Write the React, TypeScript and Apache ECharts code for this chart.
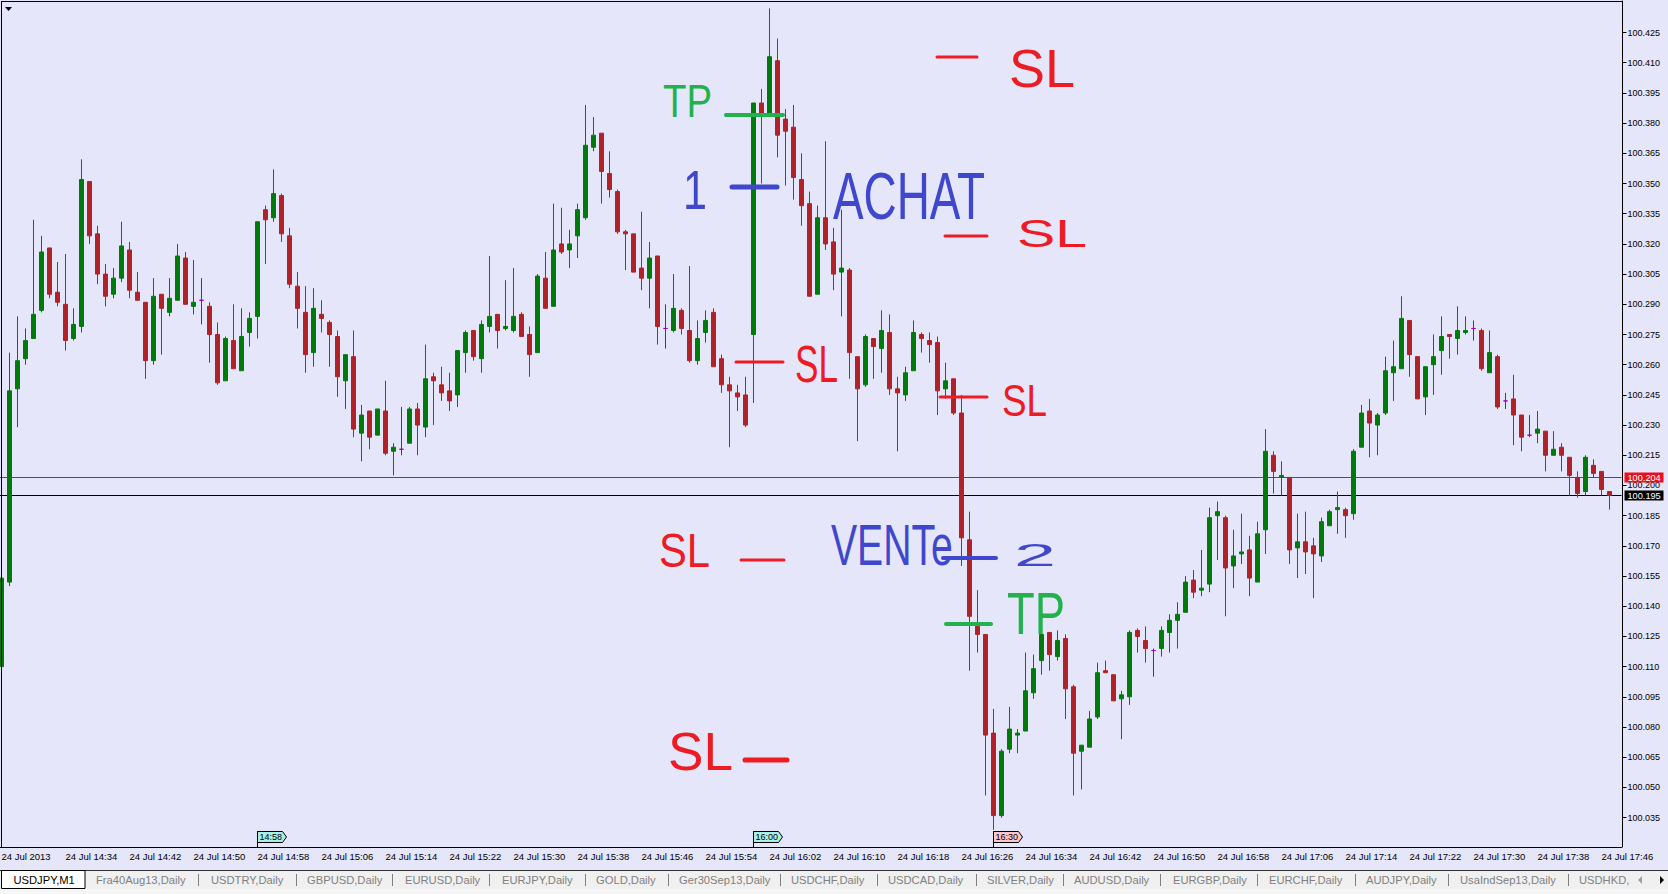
import React, { useEffect, useRef } from "react";
import * as echarts from "echarts";

// Prices, in thousandths above 100.000 (100.154 is written 154). One entry per M1 bar from 14:26.
const opensPts = [
  110,152,248,263,273,287,318,296,290,273, 279,351,325,305,295,303,317,296,291,262,
  295,286,292,313,289,292,289,275,252,272, 257,276,284,337,333,344,324,299,286,266,
  285,281,274,252,264,226,237,225,237,217, 218,221,238,229,254,250,247,245,266,277,
  263,279,285,278,277,285,275,266,303,289, 320,317,324,333,368,375,355,346,326,325,
  308,303,314,278,277,287,277,262,276,286, 263,250,246,245,275,390,385,411,382,378,
  352,340,295,333,321,306,307,264,250,273, 268,276,248,245,257,275,272,271,248,253,
  236,173,130,126,77,36,69,76,78,97, 113,127,115,124,100,68,70,85,108,106,
  94,95,128,123,118,119,127,133,137,153, 148,151,185,184,160,166,168,152,178,215,
  204,204,169,172,170,165,180,188,188,186, 219,237,230,236,256,258,282,264,244,260,
  267,275,273,276,278,277,256,264,242,243, 235,225,226,227,215,219,214,204,197,210,
  207,197,
];
const closesPts = [
  154,247,262,272,285,316,295,291,272,280, 352,324,305,294,303,319,297,292,262,294,
  288,293,314,290,291,292,275,251,273,258, 274,283,331,332,345,325,300,288,265,288,
  283,275,254,265,228,235,224,238,216,219, 218,238,230,253,252,246,242,267,276,264,
  280,284,277,279,284,274,265,304,288,317, 316,320,337,369,374,356,347,326,325,306,
  303,313,279,278,288,278,262,273,282,259, 250,247,244,230,390,385,413,374,376,353,
  339,294,333,320,305,308,266,248,274,269, 277,248,246,256,276,273,270,247,252,236,
  174,135,126,76,36,68,79,77,98,109, 126,116,123,99,67,71,84,107,107,93,
  96,127,125,119,118,128,133,136,152,147, 149,184,187,159,165,167,154,176,217,207,
  205,168,172,167,166,182,187,189,185,217, 236,231,235,257,259,283,265,243,259,264,
  274,274,277,277,278,258,266,239,242,235, 224,225,228,215,218,215,205,196,214,206,
  198,195,
];
const lowsPts = [
  110,150,229,260,273,286,293,289,267,272, 276,320,300,289,293,301,293,292,253,260,
  265,284,292,290,285,280,261,250,252,258, 257,269,273,310,331,321,298,278,256,259,
  276,259,244,238,224,212,218,225,215,205, 215,221,215,224,230,242,237,239,256,262,
  256,276,268,277,276,274,254,266,288,289, 315,308,313,332,366,340,343,325,307,306,
  297,288,270,268,276,275,261,260,271,259, 246,219,237,229,241,350,384,363,349,342,
  329,294,295,317,297,284,253,222,249,253, 256,245,217,242,257,266,261,235,243,235,
  160,108,117,46,29,35,67,67,78,94, 106,108,113,84,46,49,70,84,107,93,
  74,91,117,112,105,115,117,119,137,144, 145,147,163,135,149,161,145,152,166,196,
  195,161,154,156,144,162,180,176,174,183, 219,214,215,235,242,258,254,243,235,245,
  255,263,265,275,272,257,256,238,238,220, 217,224,221,207,215,207,195,194,195,204,
  195,188,
];
const highsPts = [
  154,266,284,278,332,324,318,311,315,288, 362,351,329,310,308,331,321,306,291,303,
  295,303,320,316,312,303,291,281,274,290, 288,286,331,339,357,345,328,306,299,298,
  292,282,277,265,277,240,237,238,252,221, 239,239,241,270,256,259,256,267,277,277,
  282,314,285,302,308,286,279,305,316,340, 338,327,340,389,383,375,366,347,327,325,
  336,321,314,290,305,288,309,282,287,288, 265,254,250,254,390,397,437,422,387,389,
  365,346,339,371,328,337,308,264,275,273, 287,285,254,259,282,276,276,274,261,253,
  245,187,148,126,89,69,90,79,117,116, 133,127,128,126,101,71,88,112,113,106,
  98,128,129,130,119,130,136,142,155,158, 168,189,192,185,178,186,175,182,228,217,
  212,204,186,187,174,184,188,197,189,218, 240,243,236,264,272,294,282,264,259,275,
  284,275,289,284,282,278,277,265,246,255, 235,235,237,227,227,221,214,207,215,213,
  207,197,
];

// One label for every eighth bar.
const timeLabels = [
  "24 Jul 2013","24 Jul 14:34","24 Jul 14:42","24 Jul 14:50","24 Jul 14:58","24 Jul 15:06","24 Jul 15:14",
  "24 Jul 15:22","24 Jul 15:30","24 Jul 15:38","24 Jul 15:46","24 Jul 15:54","24 Jul 16:02","24 Jul 16:10",
  "24 Jul 16:18","24 Jul 16:26","24 Jul 16:34","24 Jul 16:42","24 Jul 16:50","24 Jul 16:58","24 Jul 17:06",
  "24 Jul 17:14","24 Jul 17:22","24 Jul 17:30","24 Jul 17:38","24 Jul 17:46",
];
const priceTicks = [
  100.035,100.05,100.065,100.08,100.095,100.11,100.125,100.14,100.155,100.17,100.185,100.2,100.215,100.23,
  100.245,100.26,100.275,100.29,100.305,100.32,100.335,100.35,100.365,100.38,100.395,100.41,100.425,
];
const askPrice = 100.204;
const bidPrice = 100.195;
const tabNames = [
  "Fra40Aug13,Daily","USDTRY,Daily","GBPUSD,Daily","EURUSD,Daily","EURJPY,Daily","GOLD,Daily","Ger30Sep13,Daily",
  "USDCHF,Daily","USDCAD,Daily","SILVER,Daily","AUDUSD,Daily","EURGBP,Daily","EURCHF,Daily","AUDJPY,Daily",
  "UsaIndSep13,Daily","USDHKD,",
];
const tabStarts = [96,211,307,405,502,596,679,791,888,987,1074,1173,1269,1366,1460,1579];
const tabSeparators = [198,296,392,489,585,668,780,877,976,1063,1160,1257,1355,1448,1568];
const periodFlags = [
  { bar: 32, text: "14:58", fill: "#a8f0e6" },
  { bar: 94, text: "16:00", fill: "#a8f0e6" },
  { bar: 124, text: "16:30", fill: "#ffc4cc" },
];

const RED = "#ed1c24";
const GREEN = "#22b14c";
const BLUE = "#3f48cc";
const handwriting: [string, string, number, number, number, number][] = [
  ["TP", GREEN, 663, 85, 712, 118],
  ["1", BLUE, 683, 170, 707, 210],
  ["ACHAT", BLUE, 833, 172, 985, 220],
  ["SL", RED, 1009, 48, 1075, 87],
  ["SL", RED, 1017, 219, 1087, 247],
  ["SL", RED, 795, 345, 838, 382],
  ["SL", RED, 1002, 385, 1047, 417],
  ["SL", RED, 659, 533, 710, 568],
  ["VENTe", BLUE, 831, 525, 953, 566],
  ["2", BLUE, 1014, 543, 1056, 566],
  ["TP", GREEN, 1007, 593, 1065, 635],
  ["SL", RED, 668, 733, 733, 771],
];
const dashes: [string, number, number, number, number][] = [
  [GREEN, 726, 783, 115, 4],
  [BLUE, 732, 777, 187, 5],
  [RED, 937, 977, 57, 3],
  [RED, 945, 987, 236, 3],
  [RED, 736, 783, 362, 3],
  [RED, 940, 987, 397, 3],
  [RED, 741, 784, 560, 3],
  [BLUE, 943, 996, 558, 4],
  [GREEN, 946, 991, 624, 4],
  [RED, 745, 787, 760, 5],
];

const UP = "#007a0a";
const DOWN = "#b02228";
const DOJI = "#9400d3";
const BG = "#e6e6fa";
const AXIS_FONT = '"Liberation Sans", Arial, sans-serif';
// The chart's div starts this many pixels left of the page, so that the first bar can be cut by the page edge.
const SHIFT = 4;
const toPrice = (p: number) => 100 + p / 1000;

export default function App() {
  const ref = useRef<HTMLDivElement>(null);
  useEffect(() => {
    document.body.style.margin = "0";
    document.body.style.overflow = "hidden";
    const chart = echarts.init(ref.current!, undefined, { renderer: "svg" });
    const candles = opensPts.map((o, i) => {
      const value = [toPrice(o), toPrice(closesPts[i]), toPrice(lowsPts[i]), toPrice(highsPts[i])];
      return o === closesPts[i]
        ? { value, itemStyle: { color: DOJI, color0: DOJI, borderColor: DOJI, borderColor0: DOJI, borderColorDoji: DOJI } }
        : { value };
    });
    const categories = [...opensPts.map((_, i) => (i % 8 === 0 ? timeLabels[i / 8] : "")), ""];
    const markStyle = (value: number, color: string, text: string) => ({
      yAxis: value,
      lineStyle: { color, width: 1, type: "solid" },
      label: {
        show: true, position: "end", distance: 3, formatter: text, color: "#fff", backgroundColor: color,
        fontFamily: AXIS_FONT, fontSize: 9.2, padding: [1, 3, 1, 3], width: 33, height: 8, lineHeight: 8,
      },
    });
    chart.setOption({
      animation: false,
      backgroundColor: BG,
      grid: { left: SHIFT - 2.5, top: 1, width: 1624, height: 846, containLabel: false },
      xAxis: {
        type: "category", data: categories, boundaryGap: true,
        axisLine: { onZero: false, lineStyle: { color: "#000", width: 1 } },
        axisTick: { alignWithLabel: true, interval: 7, length: 3, lineStyle: { color: "#000" } },
        axisLabel: { interval: 7, align: "left", margin: 4, color: "#000", fontFamily: AXIS_FONT, fontSize: 9.5, hideOverlap: false },
        splitLine: { show: false },
      },
      yAxis: {
        type: "value", position: "right", offset: 1, min: 100.02041, max: 100.44067, scale: true,
        axisLine: { show: true, onZero: false, lineStyle: { color: "#000", width: 1 } },
        axisTick: { show: true, length: 4, lineStyle: { color: "#000" }, customValues: priceTicks },
        axisLabel: { margin: 5, color: "#000", fontFamily: AXIS_FONT, fontSize: 9, customValues: priceTicks, formatter: (v: number) => v.toFixed(3) },
        splitLine: { show: false },
      },
      series: [{
        type: "candlestick", z: 3, barWidth: 4, data: candles,
        itemStyle: { color: UP, color0: DOWN, borderColor: UP, borderColor0: DOWN, borderWidth: 1 },
        silent: true,
        markLine: {
          z: 1, silent: true, symbol: "none", precision: 5,
          // The 0.00005 only lands the line on a whole pixel row; the tag shows the real price.
          data: [markStyle(askPrice - 0.00005, "#e8101c", askPrice.toFixed(3)), markStyle(bidPrice, "#000000", bidPrice.toFixed(3))],
        },
      }],
    });

    const measure = document.createElement("canvas").getContext("2d")!;
    const graphics: any[] = [];
    graphics.push({ type: "line", z: 50, shape: { x1: 1.5, y1: 1, x2: 1.5, y2: 847 }, style: { stroke: "#000", lineWidth: 1 } });
    graphics.push({ type: "line", z: 50, shape: { x1: 1, y1: 1.5, x2: 1623, y2: 1.5 }, style: { stroke: "#000", lineWidth: 1 } });
    graphics.push({ type: "polygon", z: 50, shape: { points: [[5, 7], [12, 7], [8.5, 11]] }, style: { fill: "#000" } });

    for (const f of periodFlags) {
      const x = Math.floor((chart.convertToPixel({ xAxisIndex: 0 }, f.bar) as number) - SHIFT) + 0.5;
      graphics.push({ type: "line", z: 50, shape: { x1: x, y1: 831, x2: x, y2: 847 }, style: { stroke: "#000", lineWidth: 1 } });
      graphics.push({
        type: "polygon", z: 50,
        shape: { points: [[x, 831.5], [x + 25, 831.5], [x + 29, 837], [x + 25, 842.5], [x, 842.5]] },
        style: { fill: f.fill, stroke: "#000", lineWidth: 1 },
      });
      graphics.push({
        type: "text", z: 51, x: x + 2, y: 837.2,
        style: { text: f.text, fill: "#000", fontFamily: AXIS_FONT, fontSize: 9, textAlign: "left", textVerticalAlign: "middle" },
      });
    }

    for (const [text, color, l, t, r, b] of handwriting) {
      const fontSize = (b - t) / 0.72;
      measure.font = `${fontSize}px "Liberation Sans"`;
      const scaleX = (r - l) / measure.measureText(text).width;
      graphics.push({
        type: "text", z: 60, x: l, y: (t + b) / 2, scaleX,
        style: { text, fill: color, fontFamily: '"Liberation Sans"', fontSize, textAlign: "left", textVerticalAlign: "middle" },
      });
    }
    for (const [color, x1, x2, y, w] of dashes) {
      graphics.push({
        type: "line", z: 60, shape: { x1, y1: y, x2, y2: y },
        style: { stroke: color, lineWidth: w, lineCap: "round" },
      });
    }

    graphics.push({ type: "rect", z: 40, shape: { x: 0, y: 870, width: 1668, height: 24 }, style: { fill: "#f0f0f0" } });
    graphics.push({ type: "line", z: 41, shape: { x1: 0, y1: 870.5, x2: 1668, y2: 870.5 }, style: { stroke: "#303030", lineWidth: 1 } });
    graphics.push({ type: "rect", z: 41, shape: { x: 0, y: 889, width: 1668, height: 5 }, style: { fill: "#f6f6f6" } });
    graphics.push({ type: "rect", z: 42, shape: { x: 1.5, y: 870.5, width: 83.5, height: 18 }, style: { fill: "#fff", stroke: "#000", lineWidth: 1 } });
    const tabText = (text: string, x: number, fill: string) => ({
      type: "text", z: 43, x, y: 880.3,
      style: { text, fill, fontFamily: AXIS_FONT, fontSize: 11.2, textAlign: "left", textVerticalAlign: "middle" },
    });
    graphics.push(tabText("USDJPY,M1", 13.5, "#000"));
    tabNames.forEach((name, i) => graphics.push(tabText(name, tabStarts[i], "#808080")));
    tabSeparators.forEach((x) => graphics.push({ type: "line", z: 43, shape: { x1: x + 0.5, y1: 874, x2: x + 0.5, y2: 886 }, style: { stroke: "#808080", lineWidth: 1 } }));
    graphics.push({ type: "polygon", z: 43, shape: { points: [[1642, 876], [1642, 884], [1638, 880]] }, style: { fill: "#a0a0a0" } });
    graphics.push({ type: "polygon", z: 43, shape: { points: [[1660, 876], [1660, 884], [1664, 880]] }, style: { fill: "#000" } });

    chart.setOption({ graphic: [{ type: "group", x: SHIFT, y: 0, z: 40, children: graphics }] });
    return () => chart.dispose();
  }, []);
  return <div ref={ref} style={{ position: "absolute", left: -SHIFT, top: 0, width: 1668 + SHIFT, height: 894 }} />;
}
